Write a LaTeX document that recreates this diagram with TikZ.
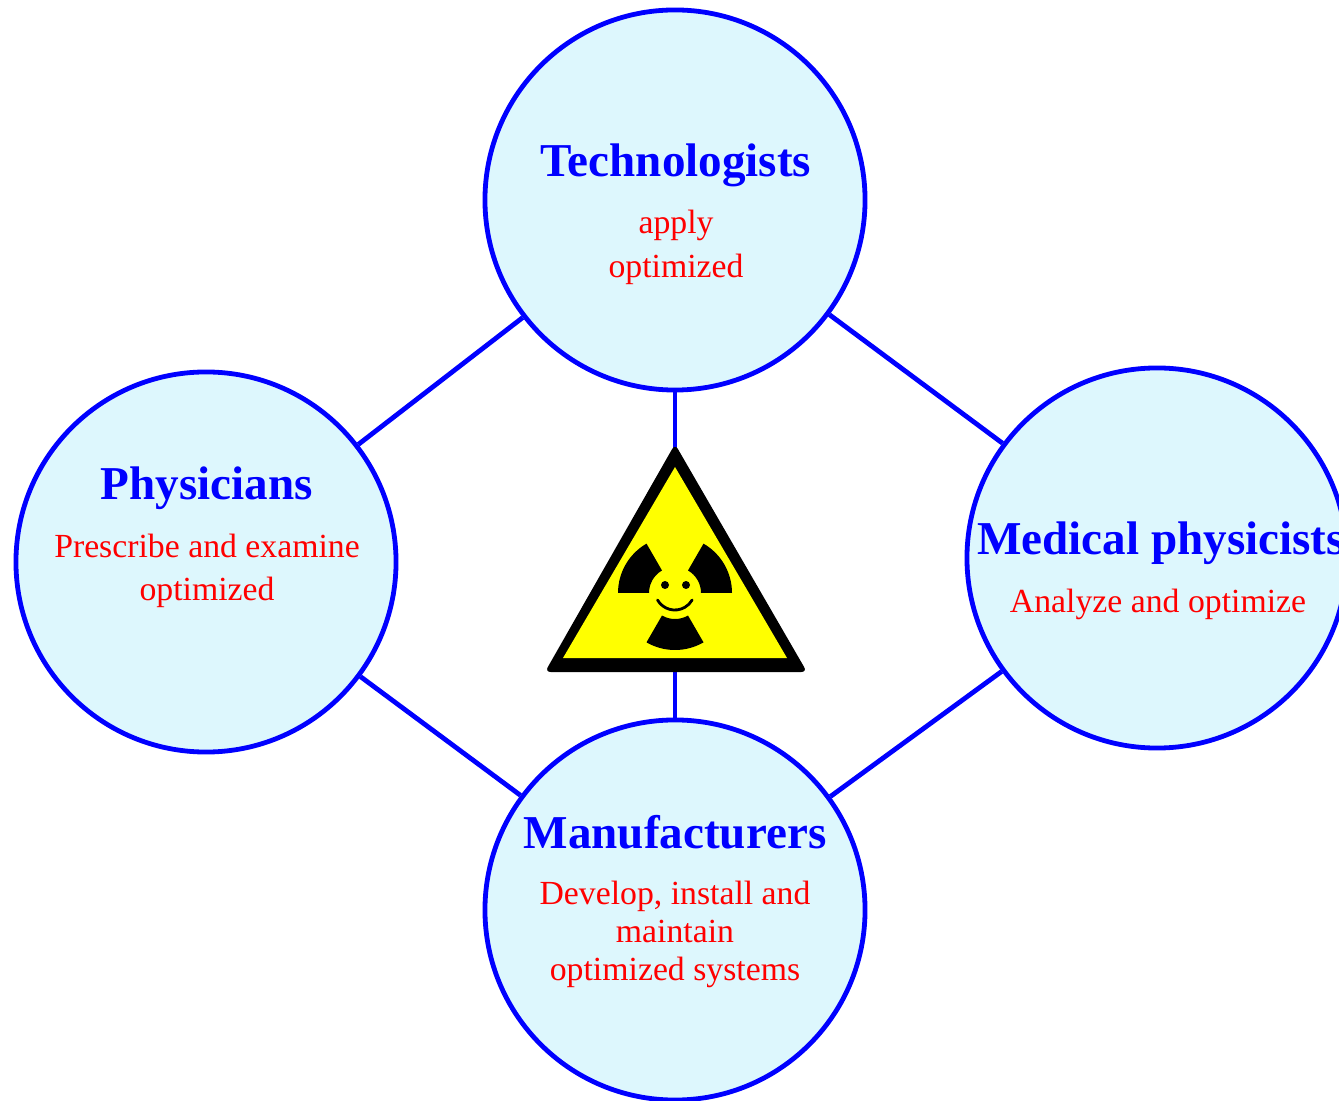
\documentclass[tikz,border=0pt]{standalone}
\usepackage{fontspec}
\setmainfont{Liberation Serif}
\usetikzlibrary{calc,positioning}
\definecolor{discfill}{RGB}{221,247,253}
\definecolor{signyellow}{RGB}{255,255,0}

\begin{document}
\begin{tikzpicture}[x=0.025cm,y=0.025cm,
    disc/.style={circle,draw=blue,fill=discfill,line width=0.12cm,minimum size=9.5cm,inner sep=0pt},
    link/.style={draw=blue,line width=0.12cm},
    role/.style={text=blue,font=\bfseries\fontsize{33.5}{40}\selectfont,anchor=base,inner sep=0pt},
    task/.style={text=red,font=\fontsize{24}{31.3}\selectfont,align=center,anchor=base,inner sep=0pt}]
  \useasboundingbox (0,0) rectangle (1339,1100);
  \node[disc] (tech) at (675,900) {};
  \node[disc] (phys) at (206,538) {};
  \node[disc] (medp) at (1157,542) {};
  \node[disc] (manu) at (675,190) {};
  %
  \draw[link] (tech) -- (phys);
  \draw[link] (tech) -- (medp);
  \draw[link] (phys) -- (manu);
  \draw[link] (medp) -- (manu);
  \draw[link] (tech) -- (manu);
  %
  \node[role] (tech-t) at (676,923) {Technologists};
  \node[task] (tech-d) at (676,822) {apply\\optimized};
  \node[role] (phys-t) at (207,600) {Physicians};
  \node[task,font=\fontsize{24}{29.9}\selectfont] (phys-d) at (207,500) {Prescribe and examine\\optimized};
  \node[role] (medp-t) at (1161,545) {Medical physicists};
  \node[task] (medp-d) at (1158,487) {Analyze and optimize};
  \node[role] (manu-t) at (675,252) {Manufacturers};
  \node[task,font=\fontsize{24}{26.7}\selectfont] (manu-d) at (675,120) {Develop, install and\\maintain\\optimized systems};
  %
  \coordinate (hz) at (675,507);
  \fill[black,rounded corners=4pt] (675,656) -- (807,428) -- (545,428) -- cycle;
  \fill[signyellow] (675,633) -- (787,442) -- (563,442) -- cycle;
  \foreach \a in {0,120,240}
    \fill (hz) ++(\a:57) arc[start angle=\a,end angle=\a+60,radius=57]
      -- ($(hz)+(\a+60:26)$) arc[start angle=\a+60,end angle=\a,radius=26] -- cycle;
  \fill (665,515) circle[radius=4];
  \fill (686,515) circle[radius=4];
  \draw[line width=0.07cm,line cap=round] (657.5,500) arc[start angle=210,end angle=330,radius=20];
\end{tikzpicture}
\end{document}
